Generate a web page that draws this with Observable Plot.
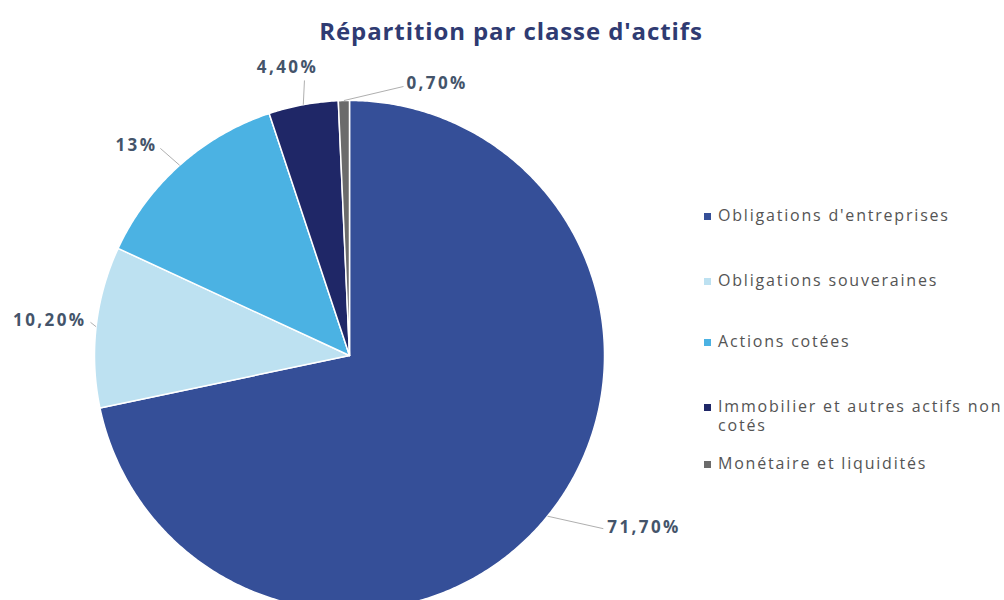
<!DOCTYPE html>
<html>
<head>
<meta charset="utf-8">
<script src="https://cdn.jsdelivr.net/npm/d3@7"></script>
<script src="https://cdn.jsdelivr.net/npm/@observablehq/plot@0.6"></script>
<style>
  html, body { margin: 0; padding: 0; background: #fff; }
  #wrap { position: relative; width: 1004px; height: 600px; overflow: hidden; font-family: "Open Sans", sans-serif; }
  #title { position: absolute; left: 0; width: 1022px; top: 14px; text-align: center; font-size: 24px; font-weight: bold; color: #2F3B72; letter-spacing: 0.9px; }
  #legend { position: absolute; left: 704px; top: 0; font-size: 16px; color: #545454; }
  .item { position: absolute; left: 0; width: 310px; display: flex; align-items: flex-start; line-height: 19px; letter-spacing: 1.8px; }
  .sw { width: 7px; height: 7px; margin-top: 7px; margin-right: 7px; flex: none; }
  #chart { position: absolute; left: 0; top: 0; }
</style>
</head>
<body>
<div id="wrap">
  <div id="chart"></div>
  <div id="title"></div>
  <div id="legend"></div>
</div>
<script>
// ---- data ----
const title = "Répartition par classe d'actifs";
const categories = ["Obligations d'entreprises", "Obligations souveraines", "Actions cotées", "Immobilier et autres actifs non cotés", "Monétaire et liquidités"];
const values = [71.7, 10.2, 13, 4.4, 0.7];
const valueLabels = ["71,70%", "10,20%", "13%", "4,40%", "0,70%"];
const colors = ["#354F98", "#BDE1F1", "#4BB2E3", "#1F2767", "#6B6B6B"];

// ---- layout ----
const W = 1004, H = 600, CX = 349, CY = 355, R = 255;
// per slice: leader end angle (deg), leader end radius, text anchor, text dx, text dy
const labelLayout = [
  {a: 124.3, r: 1.205, anchor: "start", dx: 4, dy: -1},
  {a: 277.3, r: 1.024, anchor: "end", dx: -4, dy: -2},
  {a: 317.6, r: 1.10, anchor: "end", dx: -3, dy: -3},
  {a: 350.7, r: 1.093, anchor: "middle", dx: -17, dy: -13},
  {a: 11.35, r: 1.076, anchor: "start", dx: 3, dy: -3}
];
const legendRows = [216, 281, 342, 407, 464];

const rows = categories.map((name, i) => ({name, value: values[i], label: valueLabels[i], i}));
const arcs = d3.pie().sort(null).value(d => d.value)(rows);

const polar = (a, r) => ({x: r * Math.sin(a), y: r * Math.cos(a)});

// slice polygons
const pts = [];
for (const arc of arcs) {
  const name = arc.data.name;
  pts.push({name, ...polar(0, 0)});
  const n = Math.max(2, Math.ceil((arc.endAngle - arc.startAngle) / (Math.PI / 360)));
  for (let k = 0; k <= n; k++) {
    const a = arc.startAngle + (arc.endAngle - arc.startAngle) * k / n;
    pts.push({name, ...polar(a, 1)});
  }
  pts.push({name, ...polar(0, 0)});
}

// leaders & labels
const leaders = [];
const labels = [];
arcs.forEach((arc, i) => {
  const mid = (arc.startAngle + arc.endAngle) / 2;
  const L = labelLayout[i];
  const p0 = polar(mid, 1.0);
  const p1 = polar(L.a * Math.PI / 180, L.r);
  leaders.push({x1: p0.x, y1: p0.y, x2: p1.x, y2: p1.y});
  labels.push({x: p1.x, y: p1.y, text: arc.data.label, anchor: L.anchor, dx: L.dx, dy: L.dy});
});

const chart = Plot.plot({
  width: W, height: H,
  margin: 0,
  x: {domain: [-CX / R, (W - CX) / R], axis: null},
  y: {domain: [-(H - CY) / R, CY / R], axis: null},
  color: {domain: categories, range: colors},
  marks: [
    Plot.line(pts, {x: "x", y: "y", z: "name", fill: "name", stroke: "white", strokeWidth: 1.5, strokeLinejoin: "round", curve: "linear"}),
    Plot.link(leaders, {x1: "x1", y1: "y1", x2: "x2", y2: "y2", stroke: "#AFAFAF", strokeWidth: 1}),
    ...labels.map(l => Plot.text([l], {x: "x", y: "y", text: "text", textAnchor: l.anchor, dx: l.dx, dy: l.dy,
      fill: "#44546A", fontWeight: "bold", fontSize: 17, fontFamily: "'Open Sans', sans-serif"}))
  ]
});
chart.querySelectorAll("text").forEach(t => t.style.letterSpacing = "2.4px");
document.getElementById("chart").appendChild(chart);
document.getElementById("title").textContent = title;

const leg = document.getElementById("legend");
categories.forEach((c, i) => {
  const it = document.createElement("div");
  it.className = "item";
  it.style.top = (legendRows[i] - 10) + "px";
  it.innerHTML = `<span class="sw" style="background:${colors[i]}"></span><span style="width:290px">${c}</span>`;
  leg.appendChild(it);
});
</script>
</body>
</html>
